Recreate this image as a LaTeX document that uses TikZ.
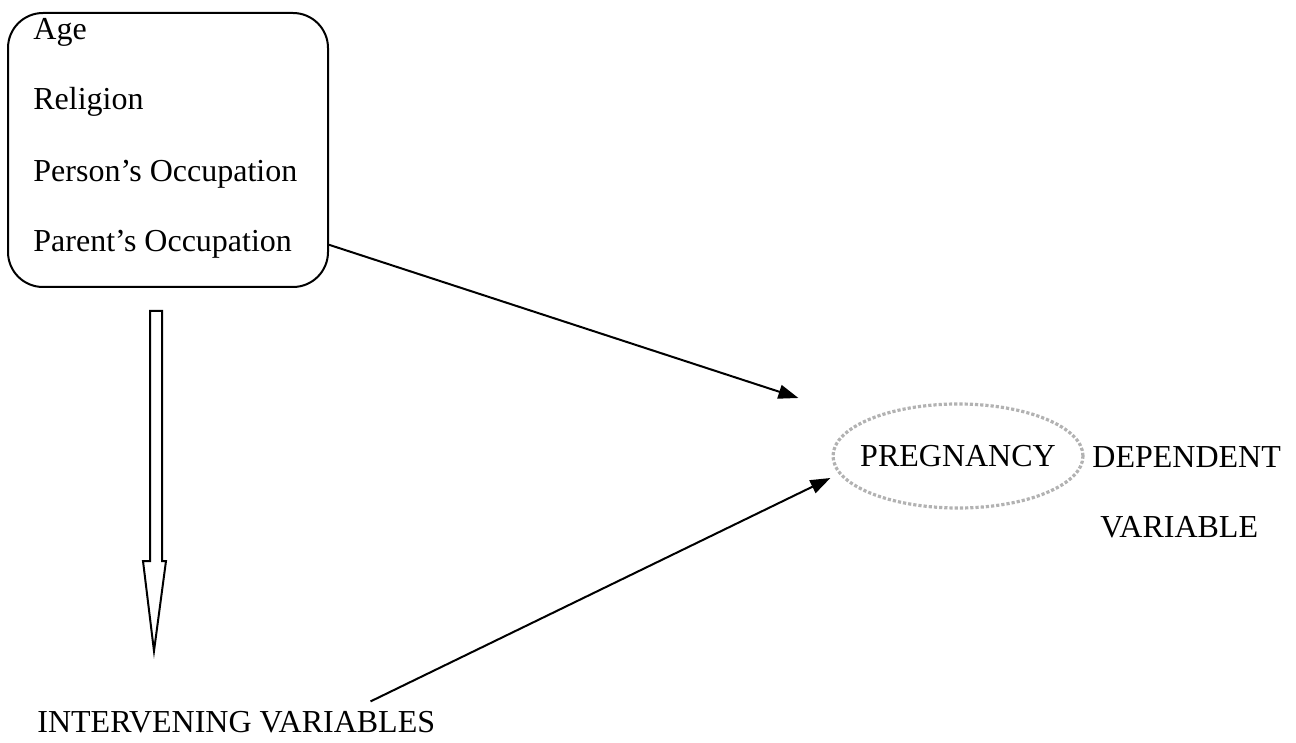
\documentclass[tikz,border=0pt]{standalone}
\usepackage{fontspec}
\setmainfont{Liberation Serif}
\usepackage{tikz}
\usetikzlibrary{arrows.meta, positioning, calc, shapes.geometric}

\begin{document}
\begin{tikzpicture}[x=0.5pt, y=-0.5pt,
    label text/.style={font=\fontsize{16pt}{19pt}\selectfont, inner sep=0pt},
    factor box/.style={draw, line width=1pt, rounded corners=17.5pt, minimum width=160pt, minimum height=137pt},
    outcome/.style={ellipse, draw=gray!60, line width=1.6pt, densely dotted, minimum width=125pt, minimum height=52pt, inner sep=0pt},
    flow/.style={line width=1pt, -{Triangle[length=10pt, width=7pt]}},
    hollow/.style={line width=1pt, fill=white, line join=miter}]
\useasboundingbox (0,0) rectangle (1296,743);

% background factors
\node[factor box] (factors) at (168,150) {};
\node[label text, anchor=base west] (age) at (33,40) {Age};
\node[label text, anchor=base west] (religion) at (33,110) {Religion};
\node[label text, anchor=base west] (person) at (33,182) {Person's Occupation};
\node[label text, anchor=base west] (parent) at (33,252) {Parent's Occupation};

% dependent variable
\node[outcome] (preg) at (958,456) {};
\node[label text] (pregtext) at (preg.center) {PREGNANCY};
\node[label text, anchor=base west] (dep) at (1092,467) {DEPENDENT};
\node[label text, anchor=base west] (var) at (1100,537) {VARIABLE};

% intervening variables
\node[label text, anchor=base west] (interv) at (37,732) {INTERVENING VARIABLES};

% hollow arrow down to the intervening variables
\coordinate (dtop) at ($(factors.south)+(-12,23)$);
\draw[hollow] (dtop) ++(-6,0) -- ++(12,0) -- ++(0,250) -- ++(4,0) -- ++(-12,90)
    -- ++(-11,-90) -- ++(7,0) -- cycle;

% arrows into pregnancy
\draw[flow] (factors.east |- parent) -- ($(preg.west)+(-33,-58)$);
\draw[flow] ($(interv.north east)+(-65,-9)$) -- ($(preg.west)+(-1,22)$);
\end{tikzpicture}
\end{document}
